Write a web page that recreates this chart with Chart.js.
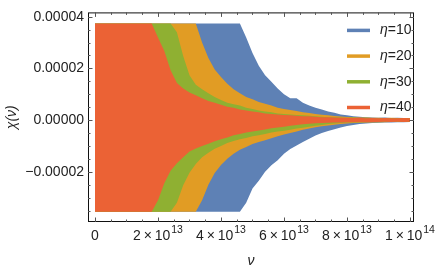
<!DOCTYPE html>
<html>
<head>
<meta charset="utf-8">
<script src="https://cdn.jsdelivr.net/npm/chart.js@4"></script>
<style>
  html, body { margin: 0; padding: 0; background: #fff; }
  #wrap { width: 436px; height: 273px; }
</style>
</head>
<body>
<div id="wrap"><canvas id="chiChart"></canvas></div>
<script>
// nu in units of 1e13, chi in units of 1e-5 (envelopes)
const NU_UNIT = 1e13;
const CHI_UNIT = 1e-5;

const nu = [0, 0.2, 0.4, 0.6, 0.8, 1.0, 1.2, 1.4, 1.6, 1.8,
  2.0, 2.2, 2.4, 2.6, 2.8, 3.0, 3.2, 3.4, 3.6, 3.8,
  4.0, 4.2, 4.4, 4.6, 4.8, 5.0, 5.2, 5.4, 5.6, 5.8,
  6.0, 6.2, 6.4, 6.6, 6.8, 7.0, 7.2, 7.4, 7.6, 7.8,
  8.0, 8.2, 8.4, 8.6, 8.8, 9.0, 9.2, 9.4, 9.6, 9.8, 10.0];

const etas = [10, 20, 30, 40];

const eta10Hi = [3.74, 3.74, 3.74, 3.74, 3.74, 3.74, 3.74, 3.74, 3.74, 3.74,
  3.74, 3.74, 3.74, 3.74, 3.74, 3.74, 3.74, 3.74, 3.74, 3.74,
  3.74, 3.74, 3.74, 3.74, 3.2, 2.6, 2.1, 1.74, 1.48, 1.22,
  1.0, 0.85, 0.85, 0.67, 0.56, 0.48, 0.41, 0.33, 0.28, 0.22,
  0.19, 0.15, 0.13, 0.11, 0.10, 0.09, 0.10, 0.08, 0.09, 0.08, 0.08];
const eta10Lo = [-3.55, -3.55, -3.55, -3.55, -3.55, -3.55, -3.55, -3.55, -3.55, -3.55,
  -3.55, -3.55, -3.55, -3.55, -3.55, -3.55, -3.55, -3.55, -3.55, -3.55,
  -3.55, -3.55, -3.55, -3.55, -3.2, -2.65, -2.35, -2.0, -1.75, -1.55,
  -1.3, -1.12, -0.98, -0.85, -0.72, -0.6, -0.5, -0.42, -0.35, -0.29,
  -0.23, -0.19, -0.15, -0.13, -0.11, -0.10, -0.09, -0.09, -0.08, -0.08, -0.07];

const eta20Hi = [3.74, 3.74, 3.74, 3.74, 3.74, 3.74, 3.74, 3.74, 3.74, 3.74,
  3.74, 3.74, 3.74, 3.74, 3.74, 3.74, 3.74, 3.0, 2.4, 1.96,
  1.67, 1.41, 1.19, 1.04, 0.89, 0.81, 0.70, 0.63, 0.56, 0.48,
  0.43, 0.39, 0.35, 0.30, 0.27, 0.24, 0.21, 0.19, 0.16, 0.14,
  0.12, 0.11, 0.10, 0.10, 0.09, 0.09, 0.08, 0.09, 0.08, 0.08, 0.08];
const eta20Lo = [-3.55, -3.55, -3.55, -3.55, -3.55, -3.55, -3.55, -3.55, -3.55, -3.55,
  -3.55, -3.55, -3.55, -3.55, -3.55, -3.55, -3.55, -3.1, -2.5, -2.05,
  -1.74, -1.5, -1.3, -1.15, -1.04, -0.93, -0.85, -0.78, -0.70, -0.63,
  -0.56, -0.50, -0.44, -0.37, -0.33, -0.28, -0.24, -0.21, -0.18, -0.15,
  -0.13, -0.11, -0.10, -0.09, -0.09, -0.08, -0.08, -0.07, -0.07, -0.07, -0.06];

const eta30Hi = [3.74, 3.74, 3.74, 3.74, 3.74, 3.74, 3.74, 3.74, 3.74, 3.74,
  3.74, 3.74, 3.74, 3.4, 2.48, 1.74, 1.37, 1.19, 1.04, 0.89,
  0.78, 0.67, 0.61, 0.56, 0.48, 0.43, 0.37, 0.33, 0.30, 0.26,
  0.24, 0.22, 0.20, 0.19, 0.17, 0.15, 0.13, 0.11, 0.11, 0.10,
  0.09, 0.10, 0.08, 0.09, 0.08, 0.08, 0.07, 0.08, 0.07, 0.08, 0.07];
const eta30Lo = [-3.55, -3.55, -3.55, -3.55, -3.55, -3.55, -3.55, -3.55, -3.55, -3.55,
  -3.55, -3.55, -3.55, -3.2, -2.52, -2.04, -1.70, -1.44, -1.26, -1.11,
  -1.0, -0.89, -0.81, -0.74, -0.69, -0.63, -0.59, -0.54, -0.48, -0.44,
  -0.41, -0.37, -0.33, -0.30, -0.26, -0.22, -0.19, -0.15, -0.13, -0.11,
  -0.09, -0.09, -0.08, -0.08, -0.07, -0.08, -0.07, -0.07, -0.06, -0.07, -0.06];

const eta40Hi = [3.74, 3.74, 3.74, 3.74, 3.74, 3.74, 3.74, 3.74, 3.74, 3.74,
  3.2, 2.67, 1.93, 1.44, 1.22, 1.07, 0.96, 0.85, 0.74, 0.67,
  0.59, 0.52, 0.48, 0.41, 0.37, 0.33, 0.30, 0.26, 0.24, 0.22,
  0.20, 0.19, 0.17, 0.15, 0.15, 0.13, 0.11, 0.11, 0.10, 0.09,
  0.09, 0.08, 0.09, 0.07, 0.08, 0.07, 0.08, 0.07, 0.07, 0.08, 0.07];
const eta40Lo = [-3.55, -3.55, -3.55, -3.55, -3.55, -3.55, -3.55, -3.55, -3.55, -3.55,
  -3.1, -2.44, -1.96, -1.67, -1.44, -1.22, -1.1, -1.0, -0.92, -0.82,
  -0.74, -0.67, -0.59, -0.54, -0.48, -0.44, -0.40, -0.36, -0.32, -0.29,
  -0.26, -0.22, -0.19, -0.16, -0.14, -0.12, -0.11, -0.10, -0.09, -0.09,
  -0.08, -0.08, -0.07, -0.08, -0.07, -0.07, -0.06, -0.07, -0.06, -0.07, -0.06];

const xTickValues = [0, 2e13, 4e13, 6e13, 8e13, 1e14];
const yTickValues = [-2e-5, 0, 2e-5, 4e-5];

const bandHi = [eta10Hi, eta20Hi, eta30Hi, eta40Hi];
const bandLo = [eta10Lo, eta20Lo, eta30Lo, eta40Lo];
const colors = ["#5e81b5", "#e19c24", "#8fb032", "#eb6235"];

const FONT = "'Liberation Sans', Arial, sans-serif";
const TEXT = "#222";

function points(vals) {
  return vals.map((v, i) => ({ x: nu[i] * NU_UNIT, y: v * CHI_UNIT }));
}

// largest eta first so it is drawn on top
const datasets = [];
for (let i = etas.length - 1; i >= 0; i--) {
  datasets.push({
    label: "eta=" + etas[i],
    data: points(bandHi[i]),
    backgroundColor: colors[i],
    borderColor: "rgba(0,0,0,0)",
    borderWidth: 0,
    pointRadius: 0,
    fill: "+1",
  });
  datasets.push({
    label: "",
    data: points(bandLo[i]),
    borderColor: "rgba(0,0,0,0)",
    borderWidth: 0,
    pointRadius: 0,
    fill: false,
  });
}

// Mathematica-style frame with inward ticks
const framePlugin = {
  id: "frame",
  afterDraw(chart) {
    const { ctx, chartArea: a, scales } = chart;
    const x = scales.x, y = scales.y;
    ctx.save();
    ctx.strokeStyle = "#111";
    ctx.lineWidth = 1;
    ctx.strokeRect(a.left + 0.5, a.top + 0.5, a.right - a.left - 1, a.bottom - a.top - 1);

    ctx.strokeStyle = "#555";
    ctx.beginPath();
    for (let v = 0; v <= 1e14 + 1; v += 5e12) {
      const px = Math.round(x.getPixelForValue(v)) + 0.5;
      const len = Math.abs(v % 2e13) < 1 || Math.abs(v % 2e13 - 2e13) < 1 ? 4.5 : 2.5;
      ctx.moveTo(px, a.bottom);
      ctx.lineTo(px, a.bottom - len);
      ctx.moveTo(px, a.top);
      ctx.lineTo(px, a.top + len);
    }
    for (let k = -7; k <= 8; k++) {
      const v = k * 5e-6;
      const py = Math.round(y.getPixelForValue(v)) + 0.5;
      const len = k % 4 === 0 ? 4.5 : 2.5;
      ctx.moveTo(a.left, py);
      ctx.lineTo(a.left + len, py);
      ctx.moveTo(a.right, py);
      ctx.lineTo(a.right - len, py);
    }
    ctx.stroke();

    // x tick labels with superscript exponents
    ctx.fillStyle = TEXT;
    ctx.textBaseline = "alphabetic";
    xTickValues.forEach((v) => {
      const px = x.getPixelForValue(v);
      const base = a.bottom + 18;
      if (v === 0) {
        ctx.font = "14px " + FONT;
        ctx.textAlign = "center";
        ctx.fillText("0", px, base);
        return;
      }
      const exp = Math.floor(Math.log10(v) + 1e-9);
      const mant = Math.round(v / Math.pow(10, exp));
      const main = mant + "\u2009\u00d7\u200910";
      const sup = String(exp);
      ctx.font = "14px " + FONT;
      const w1 = ctx.measureText(main).width;
      ctx.font = "10.5px " + FONT;
      const w2 = ctx.measureText(sup).width;
      const left = px - (w1 + w2 + 1) / 2;
      ctx.textAlign = "left";
      ctx.font = "14px " + FONT;
      ctx.fillText(main, left, base);
      ctx.font = "10.5px " + FONT;
      ctx.fillText(sup, left + w1 + 1, base - 7);
    });
    ctx.restore();
  },
};

// legend in the upper right, italic eta
const legendPlugin = {
  id: "etaLegend",
  afterDraw(chart) {
    const { ctx, chartArea: a } = chart;
    ctx.save();
    etas.forEach((eta, i) => {
      const yy = a.top + 18 + i * 25.7;
      ctx.strokeStyle = colors[i];
      ctx.lineWidth = 3.5;
      ctx.beginPath();
      ctx.moveTo(a.right - 67, yy);
      ctx.lineTo(a.right - 44, yy);
      ctx.stroke();
      ctx.fillStyle = TEXT;
      ctx.textBaseline = "middle";
      ctx.textAlign = "left";
      ctx.font = "italic 14px " + FONT;
      const tx = a.right - 34;
      ctx.fillText("\u03b7", tx, yy);
      const w = ctx.measureText("\u03b7").width;
      ctx.font = "14px " + FONT;
      ctx.fillText("=" + eta, tx + w, yy);
    });
    ctx.restore();
  },
};

new Chart(document.getElementById("chiChart"), {
  type: "line",
  data: { datasets },
  plugins: [framePlugin, legendPlugin],
  options: {
    responsive: true,
    maintainAspectRatio: false,
    animation: false,
    layout: { padding: { top: 5, right: 22, left: 0, bottom: 0 } },
    plugins: {
      legend: { display: false },
      tooltip: { enabled: false },
      filler: { propagate: false },
    },
    elements: { line: { tension: 0 } },
    scales: {
      x: {
        type: "linear",
        min: -2.22e12,
        max: 1.0127e14,
        grid: { display: false, drawTicks: false },
        border: { display: false },
        ticks: { display: false },
        afterBuildTicks: (s) => { s.ticks = xTickValues.map((v) => ({ value: v })); },
        afterFit: (s) => { s.height = 51; },
        title: {
          display: true,
          text: "\u03bd",
          color: TEXT,
          font: { family: FONT, size: 14, style: "italic" },
          padding: { top: 0, bottom: 3 },
        },
      },
      y: {
        type: "linear",
        min: -3.944e-5,
        max: 4.168e-5,
        grid: { display: false, drawTicks: false },
        border: { display: false },
        afterBuildTicks: (s) => { s.ticks = yTickValues.map((v) => ({ value: v })); },
        afterFit: (s) => { s.width = 88; },
        ticks: {
          padding: 4,
          color: TEXT,
          font: { family: FONT, size: 14 },
          callback: (v) => v.toFixed(5).replace("-", "\u2212"),
        },
        title: {
          display: true,
          text: "\u03c7(\u03bd)",
          color: TEXT,
          font: { family: FONT, size: 14, style: "italic" },
          padding: { top: 4, bottom: 0 },
        },
      },
    },
  },
});
</script>
</body>
</html>
